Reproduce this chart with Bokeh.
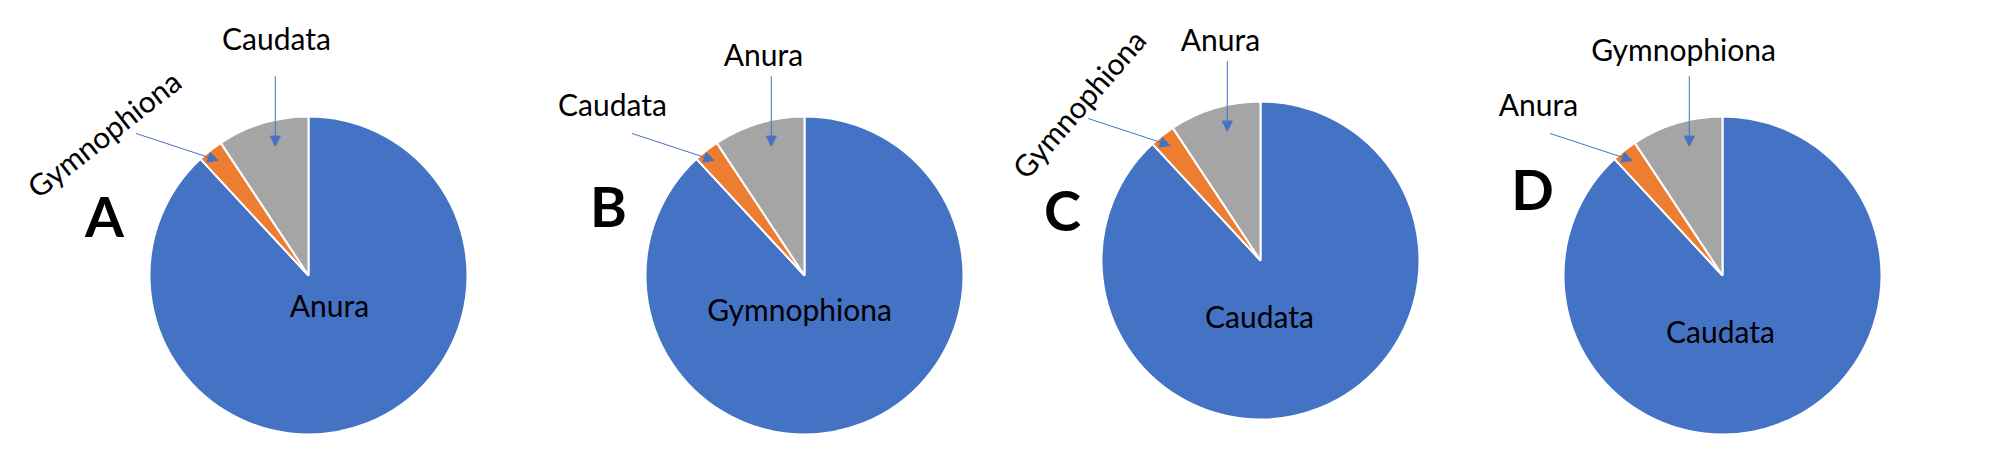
import numpy as np
from bokeh.plotting import figure
from bokeh.models import ColumnDataSource, Range1d, Arrow, NormalHead
from bokeh.core.properties import value
from bokeh.embed import file_html
from bokeh.resources import INLINE

# shares of the three slices, clockwise from 12 o'clock: blue, orange, grey
shares = [88.1, 2.6, 9.3]
colors = ["#4472C4", "#ED7D31", "#A5A5A5"]

panels = ["A", "B", "C", "D"]
big_labels = ["Anura", "Gymnophiona", "Caudata", "Caudata"]      # blue slice
small_labels = ["Gymnophiona", "Caudata", "Gymnophiona", "Anura"]  # orange slice
mid_labels = ["Caudata", "Anura", "Anura", "Gymnophiona"]          # grey slice

# layout (page pixels)
H = 463
R = 159
cx = [316, 812, 1268, 1730]
cy = [283, 283, 268, 283]
letter_xy = [(112, 223), (616, 213), (1070, 217), (1540, 196)]
big_xy = [(337, 312), (807, 316), (1267, 323), (1728, 338)]
mid_xy = [(284, 45), (771, 61), (1228, 46), (1691, 56)]
small_xy = [(111, 141), (620, 111), (1086, 111), (1546, 111)]
small_rot = [38, 0, 49, 0]

FONT = value("Lato")
BLUE = "#4472C4"
FS = "30px"

p = figure(width=1984, height=447, x_range=Range1d(8, 1992), y_range=Range1d(8, 455),
           output_backend="svg", toolbar_location=None, min_border=0)
p.axis.visible = False
p.grid.visible = False
p.outline_line_color = None
p.background_fill_color = "white"

frac = np.array(shares) / sum(shares)
f1 = np.cumsum(frac)
f0 = f1 - frac


def ang(f):
    # clockwise from the top
    return np.pi / 2 - 2 * np.pi * f


xs, ys, st, en, col = [], [], [], [], []
for i in range(4):
    for k in range(3):
        xs.append(cx[i])
        ys.append(H - cy[i])
        st.append(ang(f1[k]))
        en.append(ang(f0[k]))
        col.append(colors[k])
src = ColumnDataSource(dict(x=xs, y=ys, start=st, end=en, color=col))
p.wedge(x="x", y="y", radius=R, start_angle="start", end_angle="end", fill_color="color",
        line_color="white", line_width=2, source=src)

for i in range(4):
    x0, y0 = cx[i], H - cy[i]
    # arrow into grey slice
    a = ang(f0[2] + 0.57 * frac[2])
    tx, ty = x0 + 0.84 * R * np.cos(a), y0 + 0.84 * R * np.sin(a)
    p.add_layout(Arrow(end=NormalHead(size=10, fill_color=BLUE, line_color=BLUE, line_width=1),
                       x_start=tx, y_start=ty + 70, x_end=tx, y_end=ty,
                       line_color=BLUE, line_width=1))
    # arrow into orange slice
    a = ang(f0[1] + 0.5 * frac[1])
    tx, ty = x0 + 0.92 * R * np.cos(a), y0 + 0.92 * R * np.sin(a)
    p.add_layout(Arrow(end=NormalHead(size=10, fill_color=BLUE, line_color=BLUE, line_width=1),
                       x_start=tx - 82, y_start=ty + 27, x_end=tx, y_end=ty,
                       line_color=BLUE, line_width=1))

    p.text(x=[letter_xy[i][0]], y=[H - letter_xy[i][1]], text=[panels[i]], text_font=FONT,
           text_font_style="bold", text_font_size="56px", text_align="center",
           text_baseline="middle", text_color="black")
    p.text(x=[big_xy[i][0]], y=[H - big_xy[i][1]], text=[big_labels[i]], text_font=FONT,
           text_font_size=FS, text_align="center", text_baseline="middle", text_color="black")
    p.text(x=[mid_xy[i][0]], y=[H - mid_xy[i][1]], text=[mid_labels[i]], text_font=FONT,
           text_font_size=FS, text_align="center", text_baseline="middle", text_color="black")
    p.text(x=[small_xy[i][0]], y=[H - small_xy[i][1]], text=[small_labels[i]], text_font=FONT,
           text_font_size=FS, text_align="center", text_baseline="middle", text_color="black",
           angle=np.deg2rad(small_rot[i]))

open("out.html", "w").write(file_html(p, INLINE))
